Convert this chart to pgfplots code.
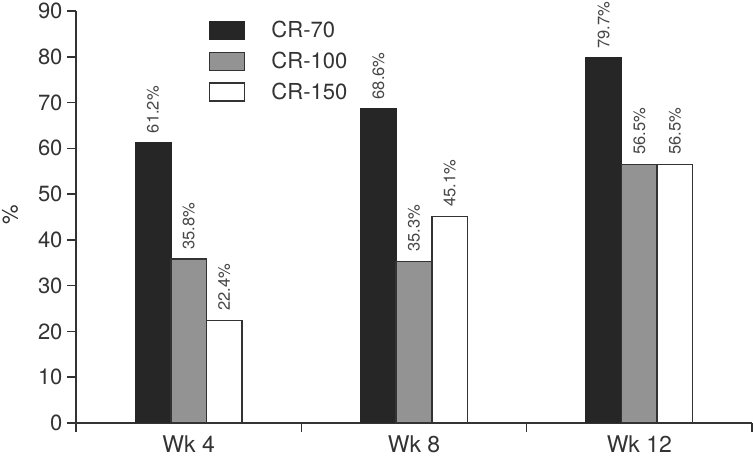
\documentclass[border=0pt]{standalone}
\usepackage{fontspec}
\setmainfont{TeX Gyre Heros}
\usepackage{pgfplots}
\pgfplotsset{compat=1.18}
\usetikzlibrary{calc}
\definecolor{barblack}{HTML}{262626}
\definecolor{bargray}{HTML}{939393}
\definecolor{ink}{HTML}{333333}

\begin{document}
\begin{tikzpicture}
\begin{axis}[
  name=ax,
  scale only axis,
  width=676pt, height=412pt,
  xmin=0, xmax=3, ymin=0, ymax=90,
  axis x line=bottom, axis y line=left,
  axis line style={ink, line width=1.5pt, -},
  ybar,
  bar width=0.158,
  ytick={0,10,...,90},
  xtick={0,1,2,3}, xticklabels={},
  extra x ticks={0.5,1.5,2.5},
  extra x tick labels={Wk 4,Wk 8,Wk 12},
  extra x tick style={major tick length=0pt, tick label style={font=\fontsize{23}{23}\selectfont, yshift=-9pt}},
  tick align=outside,
  major tick length=9pt,
  tick style={ink, line width=1.5pt},
  tick label style={text=ink},
  yticklabel style={font=\fontsize{22}{22}\selectfont, xshift=-1pt},
  /pgf/number format/assume math mode=true,
  ylabel={\%},
  ylabel style={at={(axis description cs:-0.0976,0.505)}, anchor=center,
    font=\fontsize{22}{22}\selectfont, text=ink},
  nodes near coords={\pgfmathprintnumber[fixed,precision=1,fixed zerofill]{\pgfplotspointmeta}\%},
  every node near coord/.append style={rotate=90, anchor=west, inner xsep=9pt, text=ink!90, font=\fontsize{16.5}{16.5}\selectfont},
  legend image code/.code={\draw[#1, line width=1.5pt] (0pt,-9pt) rectangle (35pt,9pt);},
  legend style={at={(0.192,0.985)}, anchor=north west, draw=none, fill=none,
    font=\fontsize{22}{22}\selectfont, text=ink, row sep=9pt,
    /tikz/every odd column/.append style={column sep=24pt}},
  legend cell align=left,
]
\addplot[fill=barblack, draw=barblack, line width=1.5pt, bar shift=-0.158]
  coordinates {(0.5,61.2) (1.5,68.6) (2.5,79.7)};
\addplot[fill=bargray, draw=ink, line width=1.5pt, bar shift=0]
  coordinates {(0.5,35.8) (1.5,35.3) (2.5,56.5)};
\addplot[fill=white, draw=ink, line width=1.5pt, bar shift=0.158]
  coordinates {(0.5,22.4) (1.5,45.1) (2.5,56.5)};
\legend{CR-70, CR-100, CR-150}
\end{axis}
\pgfresetboundingbox
\path ($(ax.south west)+(-76pt,-36pt)$) rectangle ($(ax.north east)+(1pt,11pt)$);
\end{tikzpicture}
\end{document}
